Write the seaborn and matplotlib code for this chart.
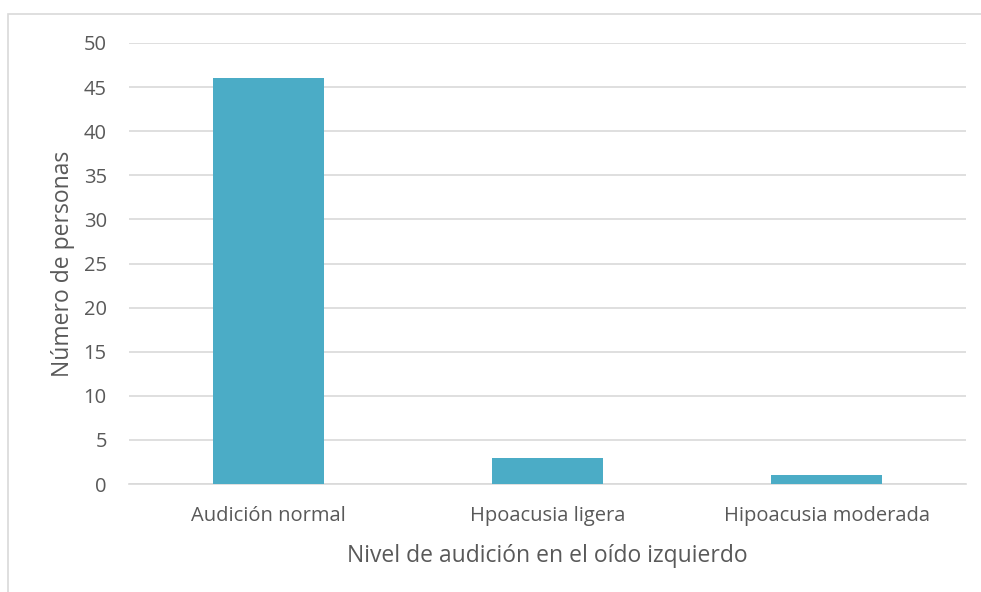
import matplotlib
matplotlib.use("Agg")
import matplotlib.pyplot as plt
import seaborn as sns
import pandas as pd
from matplotlib.patches import Rectangle

categories = ["Audición normal", "Hpoacusia ligera", "Hipoacusia moderada"]
values = [46, 3, 1]
yticks = [0, 5, 10, 15, 20, 25, 30, 35, 40, 45, 50]

sns.set_theme(style="white")
plt.rcParams['font.family'] = ['Open Sans', 'DejaVu Sans']

df = pd.DataFrame({"cat": categories, "val": values})

fig = plt.figure(figsize=(9.81, 5.92), dpi=100)
ax = fig.add_axes([129/981, 1-484/592, (966-129)/981, (484-43)/592])

sns.barplot(data=df, x="cat", y="val", color="#4BACC6", width=0.4,
            saturation=1, ax=ax, zorder=3, linewidth=0, edgecolor="none")

ax.set_ylim(0, 50)
ax.set_xlim(-0.5, 2.5)
ax.set_yticks(yticks)
ax.set_yticklabels([str(t) for t in yticks])
ax.yaxis.grid(True, color="#D9D9D9", linewidth=1.2, zorder=0)
ax.set_axisbelow(True)
for s in ["top", "right", "left"]:
    ax.spines[s].set_visible(False)
ax.spines["bottom"].set_color("#D9D9D9")
ax.spines["bottom"].set_linewidth(1.2)
ax.tick_params(axis="both", length=0, labelsize=14.5, colors="#595959")
ax.tick_params(axis="y", pad=16)
ax.tick_params(axis="x", pad=16)

ax.set_xlabel("Nivel de audición en el oído izquierdo", fontsize=16.5, color="#595959", labelpad=13)
ax.set_ylabel("Número de personas", fontsize=16.5, color="#595959", labelpad=6)

fig.patches.append(Rectangle((8/981, -0.1), 1.2, 1-14/592+0.1, transform=fig.transFigure,
                             fill=False, edgecolor="#D9D9D9", linewidth=1.2))

fig.savefig("out.png", dpi=100)
